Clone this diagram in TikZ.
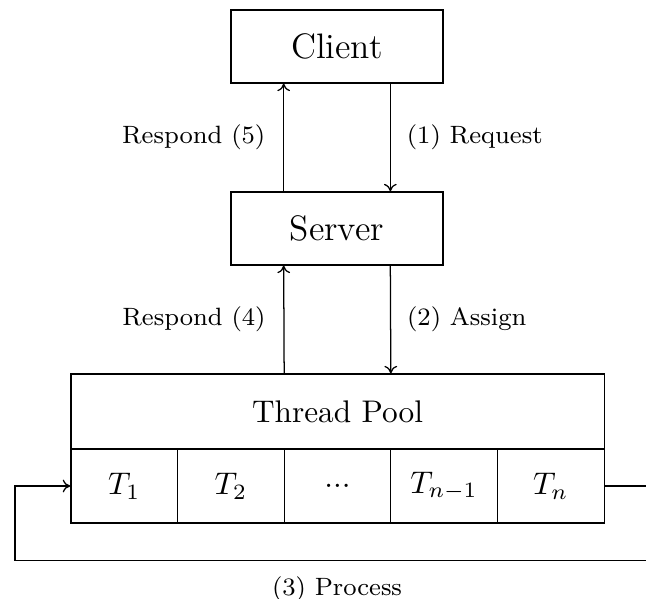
\documentclass[tikz,border=0pt]{standalone}
\usepackage{graphicx}
\usetikzlibrary{arrows.meta}
\newcommand{\upsc}[1]{\scalebox{1.67}{#1}}
\begin{document}
\begin{tikzpicture}[x=0.01875cm,y=-0.01875cm,
  bigbox/.style={draw,line width=0.67pt,minimum width=3.975cm,minimum height=1.369cm,inner sep=0pt},
  poolbox/.style={draw,line width=0.67pt,minimum width=10cm,minimum height=1.406cm,inner sep=0pt},
  cellbox/.style={draw,line width=0.67pt,minimum width=2cm,minimum height=1.388cm,inner sep=0pt},
  lbl/.style={inner sep=0pt},
  conn/.style={-{To[length=4pt,width=6.8pt]},line width=0.67pt}]
\useasboundingbox (0,0) rectangle (646,599);
\clip (0,0) rectangle (646,599);
\node[bigbox] (client) at (337,46.5) {\upsc{\fontsize{11.3}{13}\selectfont Client}};
\node[bigbox] (server) at (337,228.5) {\upsc{\fontsize{11.3}{13}\selectfont Server}};
\node[poolbox] (pool) at (337.5,411.5) {\upsc{\normalsize Thread Pool}};
\node[cellbox] (t1) at (124.2,486) {\upsc{$T_1$}};
\node[cellbox] (t2) at (230.9,486) {\upsc{$T_2$}};
\node[cellbox] (t3) at (337.5,486) {\upsc{...}};
\node[cellbox] (t4) at (444.1,486) {\upsc{$T_{n-1}$}};
\node[cellbox] (t5) at (550.8,486) {\upsc{$T_n$}};
\draw[conn] ([xshift=1cm]client.south) -- node[lbl,midway,right=8.5pt] {\upsc{\footnotesize (1) Request}} ([xshift=1cm]server.north);
\draw[conn] ([xshift=-1cm]server.north) -- node[lbl,midway,left=9.5pt] {\upsc{\footnotesize Respond (5)}} ([xshift=-1cm]client.south);
\draw[conn] ([xshift=1cm]server.south) -- node[lbl,midway,right=8.5pt] {\upsc{\footnotesize (2) Assign}} ([xshift=1cm]pool.north);
\draw[conn] ([xshift=-1cm]pool.north) -- node[lbl,midway,left=9.5pt] {\upsc{\footnotesize Respond (4)}} ([xshift=-1cm]server.south);
\coordinate (r) at (659,560.7);
\coordinate (l) at (15,560.7);
\draw[conn] (t5.east) -| (r) -- node[lbl,midway,below=8pt] {\upsc{\footnotesize (3) Process}} (l) |- (t1.west);
\end{tikzpicture}
\end{document}
